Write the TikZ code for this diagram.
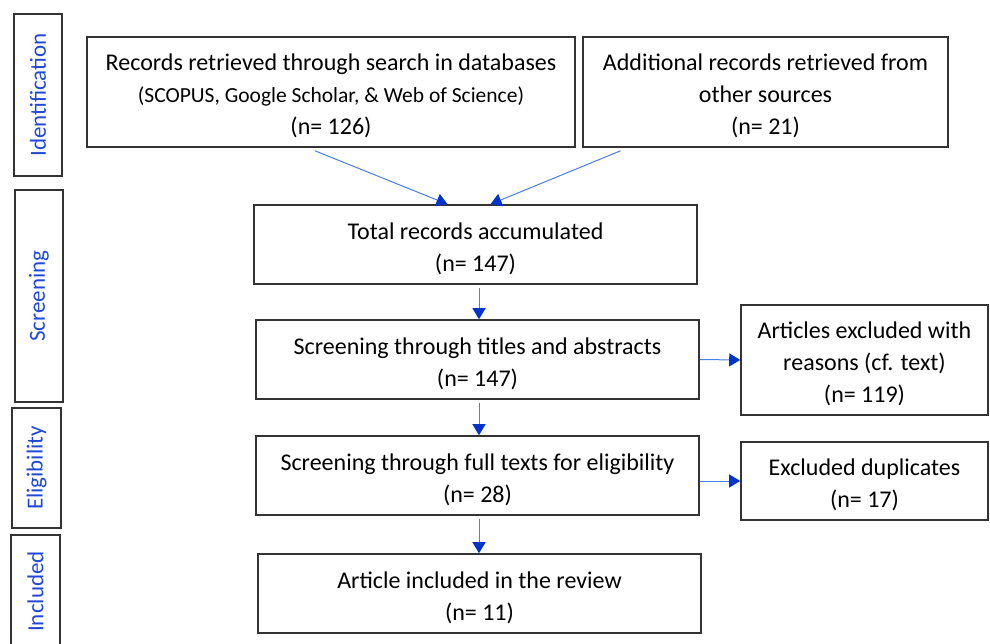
\documentclass[tikz,border=0pt]{standalone}
\usepackage{fontspec}
\setmainfont{Carlito}
\usetikzlibrary{arrows.meta}
\definecolor{lineblue}{RGB}{74,126,230}
\definecolor{headblue}{RGB}{0,51,204}
\definecolor{stageblue}{RGB}{32,72,215}
\tikzset{
  box/.style={draw=black!80, line width=1.6pt, inner sep=0pt, align=center,
    font=\fontsize{24}{32}\selectfont},
  stage/.style={draw=black!80, line width=1.6pt, inner sep=0pt, rotate=90,
    text=stageblue, font=\fontsize{23}{25}\selectfont},
  flow/.style={lineblue, line width=1pt,
    -{Triangle[length=11pt, width=13pt, color=headblue]}},
}
\newcommand{\dbfont}{\fontsize{21.5}{32}\selectfont}
\newcommand{\topline}{\rule{0pt}{25pt}}
\begin{document}
\begin{tikzpicture}[x=1pt, y=-1pt]
\useasboundingbox (0,0) rectangle (990,643);
% stages
\node [stage, minimum width=162, minimum height=48] (iden) at (38,95) {Identification};
\node [stage, minimum width=212, minimum height=48] (scre) at (39,296) {Screening};
\node [stage, minimum width=120, minimum height=49] (elig) at (36.5,468) {Eligibility};
\node [stage, minimum width=113, minimum height=49] (incl) at (35.5,591.5) {Included};
% boxes
\node [box, minimum width=488, minimum height=110] (rec) at (331,92)
  {\topline Records retrieved through search in databases\\ {\dbfont (SCOPUS, Google Scholar, \& Web of Science)}\\ (n= 126)};
\node [box, minimum width=365, minimum height=110] (add) at (765.5,92)
  {\topline Additional records retrieved from\\ other sources\\ (n= 21)};
\node [box, minimum width=443, minimum height=79] (tot) at (475.5,244.5)
  {\topline Total records accumulated\\ (n= 147)};
\node [box, minimum width=443, minimum height=79] (scr) at (477.5,359.5)
  {\topline Screening through titles and abstracts\\ (n= 147)};
\node [box, minimum width=247, minimum height=110] (exc) at (864.5,360)
  {\topline Articles excluded with\\ reasons (cf. text)\\ (n= 119)};
\node [box, minimum width=443, minimum height=79] (full) at (477.5,475.5)
  {\topline Screening through full texts for eligibility\\ (n= 28)};
\node [box, minimum width=247, minimum height=78] (dup) at (864.5,481)
  {\topline Excluded duplicates\\ (n= 17)};
\node [box, minimum width=443, minimum height=79] (inc) at (479.5,593.5)
  {\topline Article included in the review\\ (n= 11)};
% arrows
\draw [flow] ([xshift=-16]rec.south) ++(0,3) -- ([xshift=-28]tot.north);
\draw [flow] ([xshift=-145]add.south) ++(0,3) -- ([xshift=15]tot.north);
\draw [flow, shorten <=3pt] ([xshift=1.5]scr.north |- tot.south) -- ([xshift=1.5]scr.north);
\draw [flow, shorten <=3pt] ([xshift=1.5]scr.south) -- ([xshift=1.5]full.north);
\draw [flow, shorten <=3pt] ([xshift=1.5]full.south) -- ([xshift=1.5]full.south |- inc.north);
\draw [flow] (scr.east) -- (exc.west);
\draw [flow] (full.east |- dup.west) -- (dup.west);
\end{tikzpicture}
\end{document}
